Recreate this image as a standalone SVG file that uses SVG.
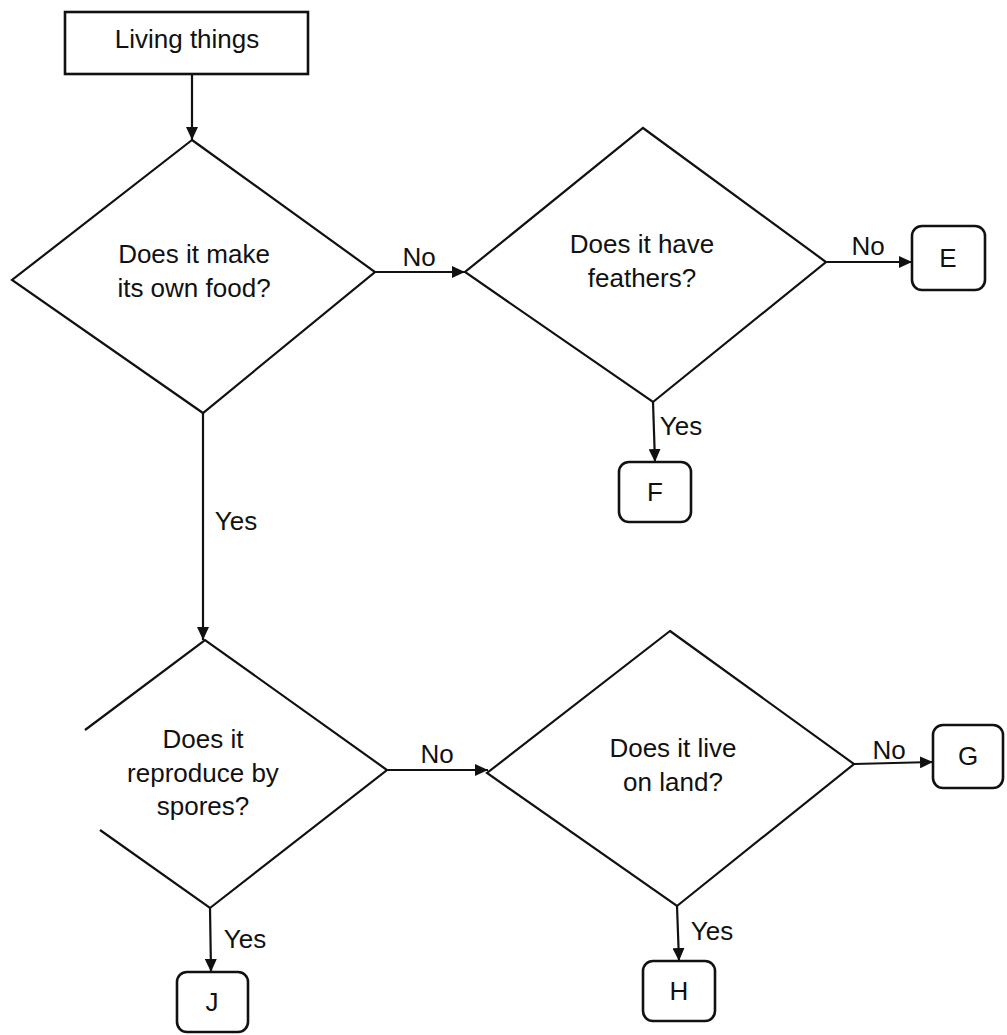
<svg xmlns="http://www.w3.org/2000/svg" width="1007" height="1035" viewBox="0 0 1007 1035">
<defs>
<style>
.shape{fill:none;stroke:#111;stroke-width:2.2;stroke-linejoin:miter}
.box{fill:none;stroke:#111;stroke-width:2.6}
.edge{fill:none;stroke:#111;stroke-width:2.2}
text{font-family:"Liberation Sans",Arial,sans-serif;font-size:26px;fill:#111;text-anchor:middle}
</style>
<marker id="arr" markerUnits="userSpaceOnUse" markerWidth="14" markerHeight="12" refX="13" refY="6" orient="auto">
<path d="M0,0 L13,6 L0,12 Z" fill="#111"/>
</marker>
</defs>
<rect width="1007" height="1035" fill="#fff"/>
<g id="connectors">
<line class="edge" x1="192" y1="74" x2="192" y2="140" marker-end="url(#arr)"/>
<line class="edge" x1="375" y1="272" x2="465" y2="272" marker-end="url(#arr)"/>
<line class="edge" x1="826" y1="262" x2="912" y2="262" marker-end="url(#arr)"/>
<line class="edge" x1="653" y1="402" x2="655" y2="462" marker-end="url(#arr)"/>
<line class="edge" x1="203" y1="413" x2="203" y2="640" marker-end="url(#arr)"/>
<line class="edge" x1="387" y1="770" x2="488" y2="770" marker-end="url(#arr)"/>
<line class="edge" x1="854" y1="764" x2="933" y2="762" marker-end="url(#arr)"/>
<line class="edge" x1="210" y1="908" x2="211" y2="972" marker-end="url(#arr)"/>
<line class="edge" x1="677" y1="906" x2="679" y2="961" marker-end="url(#arr)"/>
<text x="419" y="266">No</text>
<text x="868" y="255">No</text>
<text x="681" y="435">Yes</text>
<text x="236" y="530">Yes</text>
<text x="437" y="763">No</text>
<text x="889" y="759">No</text>
<text x="245" y="948">Yes</text>
<text x="712" y="940">Yes</text>
</g>
<g id="start">
<rect class="box" x="65" y="12" width="243" height="62"/>
<text x="187" y="48">Living things</text>
</g>
<g id="q1">
<polygon class="shape" points="192,140 375,272 203,413 12,280"/>
<text x="194" y="263">Does it make</text>
<text x="194" y="297">its own food?</text>
</g>
<g id="q2">
<polygon class="shape" points="643,128 826,262 653,402 465,272"/>
<text x="642" y="253">Does it have</text>
<text x="642" y="287">feathers?</text>
</g>
<g id="q3">
<path class="shape" d="M85,730 L205,640 L387,770 L210,908 L100,830"/>
<text x="203" y="748">Does it</text>
<text x="203" y="782">reproduce by</text>
<text x="203" y="815">spores?</text>
</g>
<g id="q4">
<polygon class="shape" points="670,631 854,764 677,906 487,773"/>
<text x="673" y="757">Does it live</text>
<text x="673" y="791">on land?</text>
</g>
<g id="E">
<rect class="box" x="912" y="226" width="73" height="64" rx="10"/>
<text x="948" y="267">E</text>
</g>
<g id="F">
<rect class="box" x="619" y="462" width="72" height="60" rx="10"/>
<text x="655" y="501">F</text>
</g>
<g id="G">
<rect class="box" x="933" y="725" width="70" height="63" rx="10"/>
<text x="968" y="765">G</text>
</g>
<g id="H">
<rect class="box" x="643" y="961" width="72" height="60" rx="10"/>
<text x="679" y="1000">H</text>
</g>
<g id="J">
<rect class="box" x="177" y="972" width="71" height="60" rx="10"/>
<text x="212" y="1011">J</text>
</g>
</svg>
